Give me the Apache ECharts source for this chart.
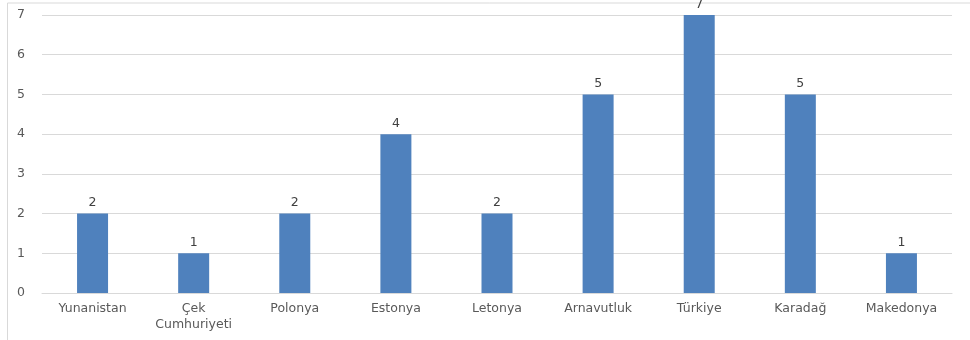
<!DOCTYPE html>
<html>
<head>
<meta charset="utf-8">
<script src="https://cdn.jsdelivr.net/npm/echarts@6/dist/echarts.min.js"></script>
<style>html,body{margin:0;padding:0;background:#fff}#c{width:970px;height:340px}</style>
</head>
<body>
<div id="c"></div>
<script>
const categories = ['Yunanistan', 'Çek\nCumhuriyeti', 'Polonya', 'Estonya', 'Letonya', 'Arnavutluk', 'Türkiye', 'Karadağ', 'Makedonya'];
const values = [2, 1, 2, 4, 2, 5, 7, 5, 1];
const yTicks = [0, 1, 2, 3, 4, 5, 6, 7];

const chart = echarts.init(document.getElementById('c'), null, {renderer: 'canvas'});
const font = 'DejaVu Sans';
chart.setOption({
  animation: false,
  graphic: [{
    type: 'rect', left: 5, top: 0.5, silent: true,
    shape: {width: 975, height: 337.5},
    style: {fill: 'none', stroke: '#d9d9d9', lineWidth: 1}
  }],
  grid: {left: 42, right: 18, top: 15, bottom: 47},
  xAxis: {
    type: 'category',
    data: categories,
    axisLine: {lineStyle: {color: '#d9d9d9'}},
    axisTick: {show: false},
    axisLabel: {color: '#595959', fontFamily: font, fontSize: 12.5, margin: 8, lineHeight: 16, interval: 0}
  },
  yAxis: {
    type: 'value',
    min: yTicks[0], max: yTicks[yTicks.length - 1], interval: 1,
    axisLine: {show: false},
    axisTick: {show: false},
    splitLine: {lineStyle: {color: '#d9d9d9'}},
    axisLabel: {color: '#595959', fontFamily: font, fontSize: 12.5, margin: 25, align: 'left'}
  },
  series: [{
    type: 'bar',
    data: values,
    barWidth: 31,
    itemStyle: {color: '#4f81bd'},
    label: {show: true, position: 'top', color: '#404040', fontFamily: font, fontSize: 12.5, distance: 4}
  }]
});
</script>
</body>
</html>
